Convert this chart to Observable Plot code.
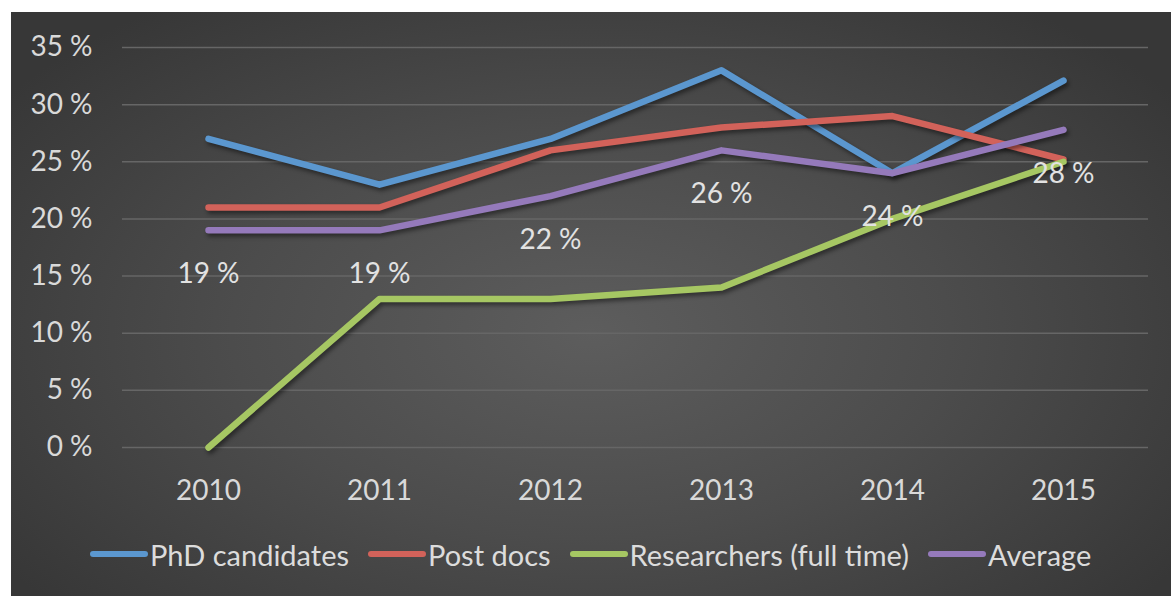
<!DOCTYPE html>
<html>
<head>
<meta charset="utf-8">
<script src="https://cdn.jsdelivr.net/npm/d3@7"></script>
<script src="https://cdn.jsdelivr.net/npm/@observablehq/plot@0.6"></script>
<style>
  html, body { margin: 0; padding: 0; background: #ffffff; width: 1171px; height: 596px; overflow: hidden; }
  #chart {
    position: absolute; left: 11px; top: 12px; width: 1160px; height: 584px;
    background: radial-gradient(ellipse 62% 70% at 50% 55%, #5d5d5d 0%, #4c4c4c 50%, #373737 100%);
    font-family: "Lato", "Open Sans", sans-serif;
  }
  #chart svg { display: block; background: transparent; }
  #chart svg g[aria-label="line"] path { filter: drop-shadow(2px 3px 2px rgba(0,0,0,0.45)); }
  #legend {
    display: flex; justify-content: flex-start; align-items: center; height: 84px;
    color: #dcdcdc; font-size: 29px; padding-left: 79px;
  }
  .item { display: flex; align-items: center; margin-right: 19px; }
  .sw { width: 58px; height: 6px; border-radius: 3px; margin-right: 2px; }
</style>
</head>
<body>
<div id="chart"></div>
<script>
const years = ["2010", "2011", "2012", "2013", "2014", "2015"];
const seriesNames = ["PhD candidates", "Post docs", "Researchers (full time)", "Average"];
const phdCandidates = [27, 23, 27, 33, 24, 32.1];
const postDocs = [21, 21, 26, 28, 29, 25.2];
const researchers = [0, 13, 13, 14, 20, 25];
const average = [19, 19, 22, 26, 24, 27.8];
const colors = ["#5b97cf", "#d2625a", "#a6c763", "#957abb"];
const yTicks = [0, 5, 10, 15, 20, 25, 30, 35];

const seriesValues = [phdCandidates, postDocs, researchers, average];
const data = [];
seriesNames.forEach((s, i) => years.forEach((y, j) => data.push({series: s, year: y, value: seriesValues[i][j]})));
const avgData = years.map((y, j) => ({year: y, value: average[j]}));

const plot = Plot.plot({
  width: 1160,
  height: 500,
  marginLeft: 111,
  marginRight: 23,
  marginTop: 35,
  marginBottom: 65,
  style: {fontFamily: "Lato, 'Open Sans', sans-serif", background: "transparent", color: "#d9d9d9"},
  x: {type: "point", domain: years, padding: 0.5, label: null},
  y: {domain: [0, 35], label: null},
  color: {domain: seriesNames, range: colors},
  marks: [
    Plot.gridY(yTicks, {stroke: "#666666", strokeOpacity: 1, strokeWidth: 1.5}),
    Plot.axisY(yTicks, {tickSize: 0, tickPadding: 30, fontSize: 28, fill: "#d9d9d9", tickFormat: d => d + " %", label: null}),
    Plot.axisX({tickSize: 0, tickPadding: 33, fontSize: 28, fill: "#d9d9d9", tickFormat: d => d, label: null}),
    Plot.lineY(data, {x: "year", y: "value", z: "series", stroke: "series", strokeWidth: 6.5, strokeLinecap: "round", strokeLinejoin: "round"}),
    Plot.text(avgData, {x: "year", y: "value", text: d => Math.round(d.value) + " %", dy: 44, fill: "#e2e2e2", fontSize: 28})
  ]
});
const chart = document.getElementById("chart");
chart.appendChild(plot);

const legend = document.createElement("div");
legend.id = "legend";
seriesNames.forEach((s, i) => {
  const it = document.createElement("div");
  it.className = "item";
  const sw = document.createElement("div");
  sw.className = "sw";
  sw.style.background = colors[i];
  const tx = document.createElement("span");
  tx.textContent = s;
  it.appendChild(sw); it.appendChild(tx);
  legend.appendChild(it);
});
chart.appendChild(legend);
</script>
</body>
</html>
